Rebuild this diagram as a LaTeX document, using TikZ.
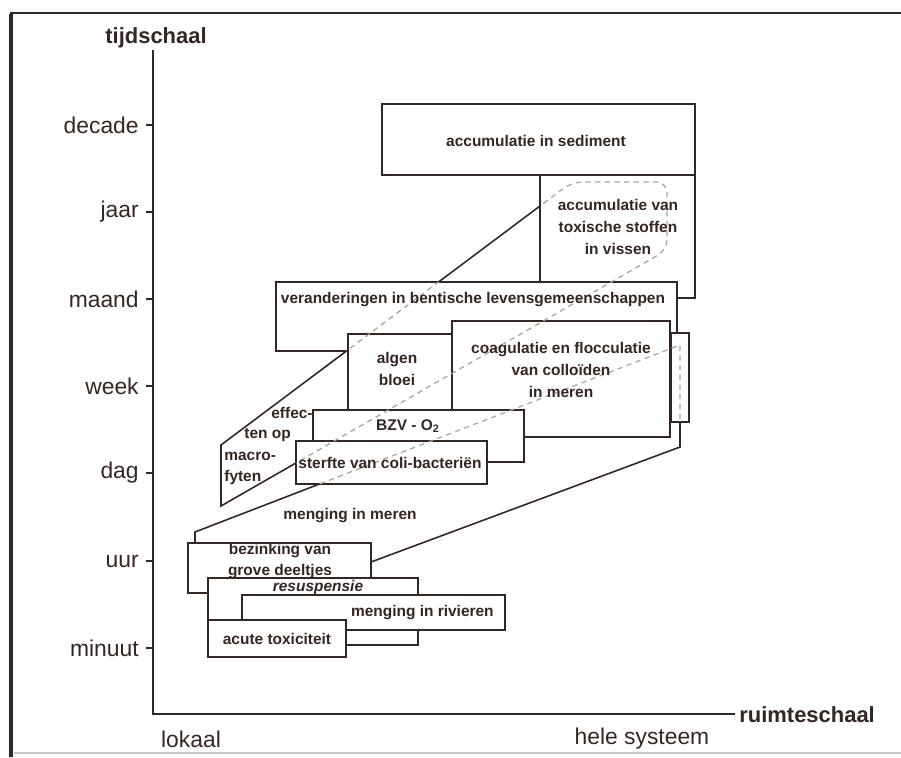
\documentclass[tikz,border=0pt]{standalone}
\usepackage{fontspec}
\setmainfont{Liberation Sans}
\usepackage{tkz-euclide}

\definecolor{ink}{RGB}{52,38,34}
\definecolor{trace}{RGB}{165,165,155}

\tikzset{
  kader/.style={draw=ink,line width=0.9pt,fill=white},
  band/.style={draw=ink,line width=0.9pt},
  spoor/.style={draw=trace,line width=0.7pt,dash pattern=on 3pt off 2.5pt},
  tekst/.style={font=\fontsize{8.8}{12.4}\selectfont\bfseries,text=ink,align=center,inner sep=0pt},
  schaal/.style={font=\fontsize{13}{15}\selectfont,text=ink,inner sep=0pt},
  titel/.style={font=\fontsize{12.5}{15}\selectfont\bfseries,text=ink,inner sep=0pt}
}

\begin{document}
\begin{tikzpicture}[x=0.02cm,y=-0.02cm]
  \useasboundingbox (0,0) rectangle (901,757);
  % page frame
  \draw[ink,line width=1.1pt] (10,13) -- (901,13);
  \draw[ink,line width=2.3pt] (11,14) -- (11,757);
  \draw[trace!60,line width=0.6pt] (14,753) -- (901,753);

  % axes and time ticks
  \tkzDefPoints{153/50/T,153/714/O,735/714/R}
  \draw[ink,line width=1.1pt] (T) -- (O) -- (R);
  \node[titel] (tijd) at (156,38) {tijdschaal};
  \node[titel,anchor=west] (ruimte) at (739,715) {ruimteschaal};
  \node[schaal] (lokaal) at (191,739) {lokaal};
  \node[schaal] (systeem) at (642,739) {hele systeem};
  \foreach \t/\y in {decade/125,jaar/212,maand/299,week/386,dag/473,uur/561,minuut/648}{
    \draw[ink,line width=0.8pt] (146,\y) -- (153,\y);
    \node[schaal,anchor=east] (t-\t) at (139,\y) {\t};
  }

  % corners of the slanted bands
  \tkzDefPoints{221/506/Ma,221/445/Mb,572/182/Mc,667/182/Md,667/250/Me}
  \tkzDefPoints{195/543/Na,195/532/Nb,680/345/Nc,680/447/Nd,371/562/Ne}
  % corners of the boxes (top left / bottom right)
  \tkzDefPoints{382/104/sed1,695/175/sed2,540/175/vis1,695/298/vis2,
    276/282/ver1,677/351/ver2,671/333/nar1,689/422/nar2,
    348/334/alg1,452/420/alg2,452/321/coa1,670/437/coa2,
    313/410/bzv1,524/462/bzv2,296/441/ste1,487/484/ste2,
    188/543/bez1,371/593/bez2,208/578/res1,418/645/res2,
    242/595/riv1,505/630/riv2,208/620/acu1,346/657/acu2}

  \draw[band] (Ma) -- (Mb) [rounded corners=6pt] -- (Mc) -- (Md) -- (Me) [sharp corners] -- cycle;
  \draw[band] (Na) -- (Nb) -- (Nc) -- (Nd) -- (Ne);

  \foreach \b in {sed,vis,ver,nar,alg,coa,bzv,ste,bez,res,riv,acu}
    \draw[kader] (\b1) rectangle (\b2);

  % bands seen through the boxes
  \begin{scope}
    \clip (vis1) rectangle (vis2) (ver1) rectangle (ver2) (nar1) rectangle (nar2)
      (alg1) rectangle (alg2) (coa1) rectangle (coa2) (bzv1) rectangle (bzv2)
      (ste1) rectangle (ste2);
    \draw[spoor] (Ma) -- (Mb) [rounded corners=6pt] -- (Mc) -- (Md) -- (Me) [sharp corners] -- cycle;
    \draw[spoor] (Na) -- (Nb) -- (Nc) -- (Nd) -- (Ne);
  \end{scope}

  \node[tekst] (sediment) at (536,141) {accumulatie in sediment};
  \node[tekst] (vissen) at (618,227) {accumulatie van\\toxische stoffen\\in vissen};
  \node[tekst] (bentos) at (473,300) {veranderingen in bentische levensgemeenschappen};
  \node[tekst] (algen) at (397,369) {algen\\bloei};
  \node[tekst] (coag) at (561,370) {coagulatie en flocculatie\\van colloïden\\in meren};
  \node[tekst] (bzv) at (408,426) {BZV - O\textsubscript{2}};
  \node[tekst] (coli) at (390,463) {sterfte van coli-bacteriën};
  \node[tekst,anchor=west] (macro1) at (271,413) {effec-};
  \node[tekst,anchor=west] (macro2) at (244,435) {ten op};
  \node[tekst,anchor=west] (macro3) at (224,456) {macro-};
  \node[tekst,anchor=west] (macro4) at (224,477) {fyten};
  \node[tekst] (meren) at (350,516) {menging in meren};
  \node[tekst] (bezinking) at (280,561) {bezinking van\\grove deeltjes};
  \node[tekst,font=\fontsize{8.8}{12.4}\selectfont\bfseries\itshape] (resusp) at (318,587) {resuspensie};
  \node[tekst,anchor=east] (rivieren) at (494,613) {menging in rivieren};
  \node[tekst] (acuut) at (277,639) {acute toxiciteit};
\end{tikzpicture}
\end{document}
